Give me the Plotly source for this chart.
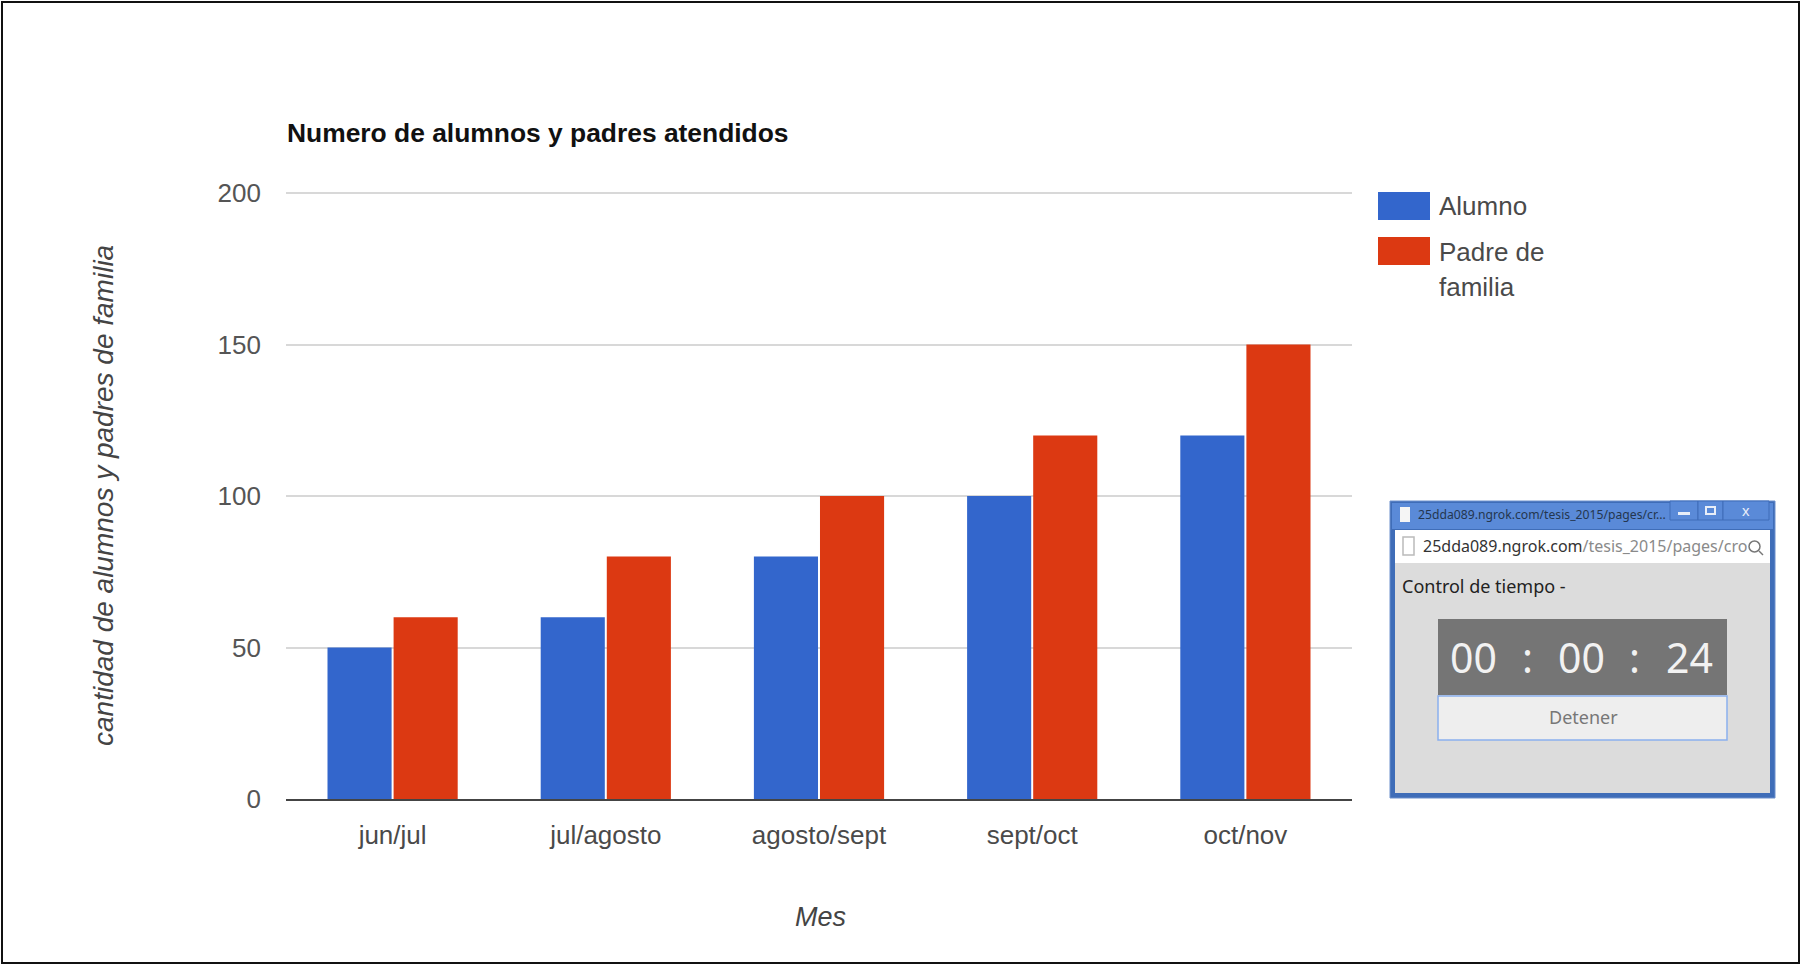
import plotly.graph_objects as go

categories = ["jun/jul", "jul/agosto", "agosto/sept", "sept/oct", "oct/nov"]
alumno = [50, 60, 80, 100, 120]
padre = [60, 80, 100, 120, 150]
series_names = ["Alumno", "Padre de familia"]
y_ticks = [0, 50, 100, 150, 200]
title = "Numero de alumnos y padres atendidos"
x_title = "Mes"
y_title = "cantidad de alumnos y padres de familia"
popup_url_host = "25dda089.ngrok.com"
popup_url_path = "/tesis_2015/pages/cro"
popup_label = "Control de tiempo -"
popup_timer = ["00", ":", "00", ":", "24"]
popup_button = "Detener"

W, H = 1801, 965
L, R, T, B = 286, 1352, 190, 799
SANS = "Liberation Sans"
BLUE, RED = "#3366cc", "#dc3912"


def fx(p):
    return (p - L) / (R - L)


def fy(p):
    return (B - p) / (B - T)


shapes = []
annotations = []


def rect(x0, y0, x1, y1, fill, line=None, lw=0, layer="above"):
    shapes.append(dict(type="rect", xref="paper", yref="paper", x0=fx(x0), x1=fx(x1),
                       y0=fy(y0), y1=fy(y1), fillcolor=fill, layer=layer,
                       line=dict(color=line or fill, width=lw)))


def text(x, y, s, size, color, anchor="left", family=SANS, italic=False, bold=False, angle=0):
    f = dict(family=family, size=size, color=color)
    if italic:
        f["style"] = "italic"
    if bold:
        f["weight"] = "bold"
    annotations.append(dict(x=fx(x), y=fy(y), xref="paper", yref="paper", text=s, showarrow=False,
                            xanchor=anchor, yanchor="middle", font=f, textangle=angle,
                            borderpad=0, borderwidth=0))


# outer frame
rect(2, 2, W - 2, H - 2, "rgba(0,0,0,0)", "#111111", 2)

# legend
rect(1378, 192, 1430, 220, BLUE)
rect(1378, 237, 1430, 265, RED)
text(1439, 206, series_names[0], 26, "#4a4a4a")
first, second = series_names[1].rsplit(" ", 1)
text(1439, 252, first, 26, "#4a4a4a")
text(1439, 287, second, 26, "#4a4a4a")

# axis titles and chart title
text(287, 133, title, 26.4, "#111111", bold=True)
text(820, 917, x_title, 27, "#444444", anchor="center", italic=True)
text(103, 496, y_title, 28, "#444444", anchor="center", italic=True, angle=-90)

# popup window
rect(1390, 501, 1775, 798, "#3f6db8", "#6d90cc", 1)
rect(1392, 503, 1773, 529, "#5a8ad8")
rect(1395, 530, 1770, 563, "#ffffff")
rect(1395, 563, 1770, 793, "#dcdcdc")
rect(1670, 501, 1698, 520, "#5a8ad8", "#3f6db8", 1)
rect(1698, 501, 1723, 520, "#5a8ad8", "#3f6db8", 1)
rect(1723, 501, 1769, 520, "#5a8ad8", "#3f6db8", 1)
rect(1678, 512, 1690, 515, "#e8eef8")
rect(1706, 507, 1715, 514, "rgba(0,0,0,0)", "#e8eef8", 2)
text(1746, 510, "x", 15, "#e8eef8", anchor="center")
rect(1400, 507, 1410, 522, "#f5f5f5")
rect(1403, 537, 1414, 555, "#ffffff", "#bbbbbb", 1.5)
text(1418, 514, popup_url_host + popup_url_path[:-1] + "...", 12.2, "#24364f", family="Noto Sans")
text(1423, 546, f"{popup_url_host}<span style='color:#8a8a8a'>{popup_url_path}</span>", 16, "#333333",
     family="Noto Sans")
rect(1744, 531, 1769, 562, "#ffffff")
shapes.append(dict(type="circle", xref="paper", yref="paper", x0=fx(1749), x1=fx(1760), y0=fy(541), y1=fy(552),
                   line=dict(color="#777777", width=1.5)))
shapes.append(dict(type="line", xref="paper", yref="paper", x0=fx(1759), x1=fx(1763), y0=fy(551), y1=fy(555),
                   line=dict(color="#777777", width=1.5)))
text(1402, 586, popup_label, 18, "#222222", family="Noto Sans")
rect(1438, 619, 1727, 695, "#757575")
for cx, s in zip([1473, 1527, 1581, 1634, 1689], popup_timer):
    text(cx, 657, s, 41, "#f2f2f2", anchor="center", family="Noto Sans")
rect(1438, 696, 1727, 740, "#eeeeee", "#8ab0ee", 1.5)
text(1583, 717, popup_button, 18, "#777777", anchor="center", family="Noto Sans")

fig = go.Figure()
fig.add_bar(x=categories, y=alumno, name=series_names[0], marker=dict(color=BLUE, line=dict(width=0)))
fig.add_bar(x=categories, y=padre, name=series_names[1], marker=dict(color=RED, line=dict(width=0)))

fig.update_layout(
    width=W, height=H, autosize=False,
    margin=dict(l=L, r=W - R, t=T, b=H - B, pad=0),
    paper_bgcolor="#ffffff", plot_bgcolor="#ffffff",
    barmode="group", bargap=0.38, bargroupgap=0.03,
    showlegend=False,
    font=dict(family=SANS, size=26, color="#4a4a4a"),
    shapes=shapes, annotations=annotations,
    xaxis=dict(showgrid=False, showline=True, linecolor="#444444", linewidth=2, ticks="",
               ticklabelstandoff=12, tickfont=dict(size=26, color="#4a4a4a", family=SANS), automargin=False,
               zeroline=False),
    yaxis=dict(range=[0, 201], tickvals=y_ticks, gridcolor="#d8d8d8", gridwidth=2, zeroline=False,
               showline=False, ticks="", ticklabelstandoff=24,
               tickfont=dict(size=26, color="#555555", family=SANS), automargin=False),
)

fig.write_html("out.html", config=dict(displayModeBar=False),
               post_script="document.body.style.margin='0';document.body.style.overflow='hidden';")
